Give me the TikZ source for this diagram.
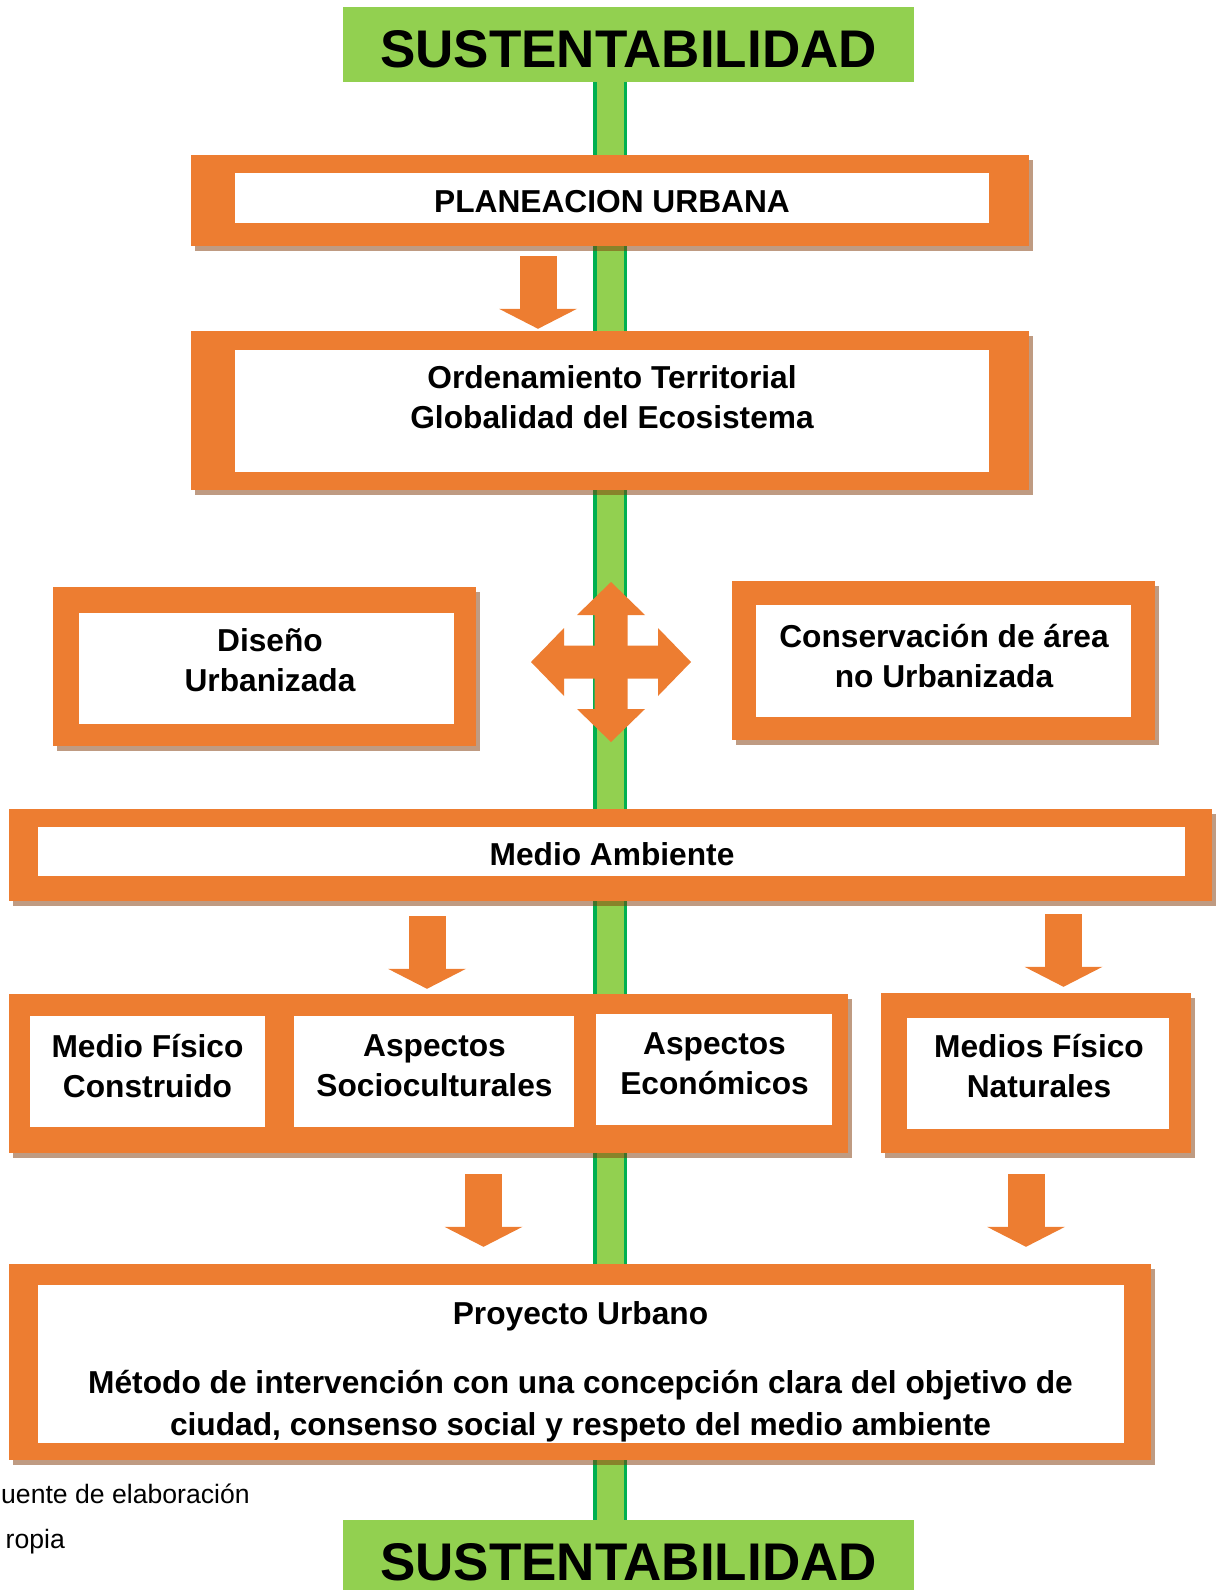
\documentclass[tikz,border=0pt]{standalone}
\usepackage{fontspec}
\setmainfont{Liberation Sans}
\usetikzlibrary{arrows.meta,shadows}
\definecolor{myorange}{RGB}{237,125,49}
\definecolor{lightgreen}{RGB}{146,208,80}
\definecolor{bargreen}{RGB}{0,176,80}
\definecolor{shadowbrown}{RGB}{128,56,6}
\newcommand{\lblfont}{\fontsize{31.7}{40}\selectfont\bfseries}
\newcommand{\bigfont}{\fontsize{53}{60}\selectfont\bfseries}
\newcommand{\footfont}{\fontsize{26.6}{32}\selectfont}

\begin{document}
\begin{tikzpicture}[x=1pt, y=-1pt,
    gbox/.style={fill=lightgreen, inner sep=0},
    obox/.style={fill=myorange, inner sep=0, drop shadow={shadow xshift=4pt, shadow yshift=-5pt, fill=shadowbrown, opacity=0.5}},
    inbox/.style={fill=white, inner sep=0},
    lbl/.style={font=\lblfont, align=center, inner sep=0, execute at begin node=\strut, execute at end node=\strut},
    bigtxt/.style={font=\bigfont, inner sep=0},
    foot/.style={font=\footfont, inner sep=0},
    bar/.style={draw=bargreen, line width=3.5pt, double=lightgreen, double distance=27pt},
    blockarrow/.style={draw=myorange, line width=37pt, -{Triangle[length=20pt, width=78pt, line width=0pt]}}]

    \useasboundingbox (0,0) rectangle (1220,1590);

    % Sustentabilidad
    \node[gbox, minimum width=571pt, minimum height=75pt] (sustA) at (628.5,44.5) {};
    \node[gbox, minimum width=571pt, minimum height=75pt] (sustB) at (628.5,1557.5) {};
    \draw[bar] ([xshift=-18.5pt]sustA.south) -- ([xshift=-18.5pt]sustB.north);
    \node[bigtxt, anchor=base] (sustAT) at (628.5,67) {SUSTENTABILIDAD};
    \node[bigtxt, anchor=base] (sustBT) at (628.5,1580) {SUSTENTABILIDAD};

    % Planeacion
    \node[obox, minimum width=838pt, minimum height=91pt] (plan) at (610,200.5) {};
    \node[inbox, minimum width=754pt, minimum height=50pt] (planin) at (612,198) {};
    \node[lbl] (planT) at (612,204) {PLANEACION URBANA};

    \node[obox, minimum width=838pt, minimum height=159pt] (ord) at (610,410.5) {};
    \node[inbox, minimum width=754pt, minimum height=122pt] (ordin) at (612,411) {};
    \node[lbl] (ordT) at (612,403) {Ordenamiento Territorial\\Globalidad del Ecosistema};

    \draw[blockarrow, shorten <=10pt, shorten >=2pt] (plan.south -| 538,0) -- (ord.north -| 538,0);

    % Diseno y conservacion
    \node[obox, minimum width=423pt, minimum height=159pt] (dis) at (264.5,666.5) {};
    \node[inbox, minimum width=375pt, minimum height=111pt] (disin) at (266.5,668.5) {};
    \node[lbl] (disT) at (270,666) {Diseño\\Urbanizada};

    \node[obox, minimum width=423pt, minimum height=159pt] (cons) at (943.5,660.5) {};
    \node[inbox, minimum width=375pt, minimum height=112pt] (consin) at (943.5,661) {};
    \node[lbl] (consT) at (944,661.5) {Conservación de área\\no Urbanizada};

    \coordinate (cross) at (611,662);
    \foreach \a in {0,90,180,270}
        \fill[myorange, shift={(cross)}, rotate=\a] (0,-16.5) -- (47,-16.5) -- (47,-34) -- (80,0) -- (47,34) -- (47,16.5) -- (0,16.5) -- cycle;

    % Medio ambiente
    \node[obox, minimum width=1203pt, minimum height=92pt] (ma) at (610.5,855) {};
    \node[inbox, minimum width=1147pt, minimum height=49pt] (main) at (611.5,851.5) {};
    \node[lbl] (maT) at (612,857) {Medio Ambiente};

    \node[obox, minimum width=839pt, minimum height=159pt] (row) at (428.5,1073.5) {};
    \node[inbox, minimum width=235pt, minimum height=111pt] (fis) at (147.5,1071.5) {};
    \node[inbox, minimum width=280pt, minimum height=111pt] (soc) at (434,1071.5) {};
    \node[inbox, minimum width=236pt, minimum height=111pt] (eco) at (714,1069.5) {};
    \node[lbl] (fisT) at (147.5,1072) {Medio Físico\\Construido};
    \node[lbl] (socT) at (434.5,1072) {Aspectos\\Socioculturales};
    \node[lbl] (ecoT) at (714.5,1069.5) {Aspectos\\Económicos};

    \node[obox, minimum width=310pt, minimum height=160pt] (nat) at (1036,1073) {};
    \node[inbox, minimum width=262pt, minimum height=111pt] (natin) at (1038,1073.5) {};
    \node[lbl] (natT) at (1039,1072) {Medios Físico\\Naturales};

    \draw[blockarrow, shorten <=15pt, shorten >=5pt] (ma.south -| 427,0) -- (row.north -| 427,0);
    \draw[blockarrow, shorten <=13pt, shorten >=6pt] (ma.south -| 1063.5,0) -- (nat.north -| 1063.5,0);

    % Proyecto urbano
    \node[obox, minimum width=1142pt, minimum height=196pt] (proy) at (580,1362) {};
    \node[inbox, minimum width=1086pt, minimum height=158pt] (proyin) at (581,1364) {};
    \node[lbl] (proyT) at (580.5,1316) {Proyecto Urbano};
    \begin{scope}
        \clip (proyin.north west) rectangle (proyin.south east);
        \node[lbl, font=\fontsize{31.7}{42}\selectfont\bfseries] (proyD) at (580.5,1409) {Método de intervención con una concepción clara del objetivo de\\ciudad, consenso social y respeto del medio ambiente};
    \end{scope}

    \draw[blockarrow, shorten <=21pt, shorten >=17pt] (row.south -| 483.5,0) -- (proy.north -| 483.5,0);
    \draw[blockarrow, shorten <=21pt, shorten >=17pt] (nat.south -| 1026,0) -- (proy.north -| 1026,0);

    % Fuente
    \node[foot, anchor=base west] (src1) at (1,1503) {uente de elaboración};
    \node[foot, anchor=base west] (src2) at (5.5,1548) {ropia};
\end{tikzpicture}
\end{document}
